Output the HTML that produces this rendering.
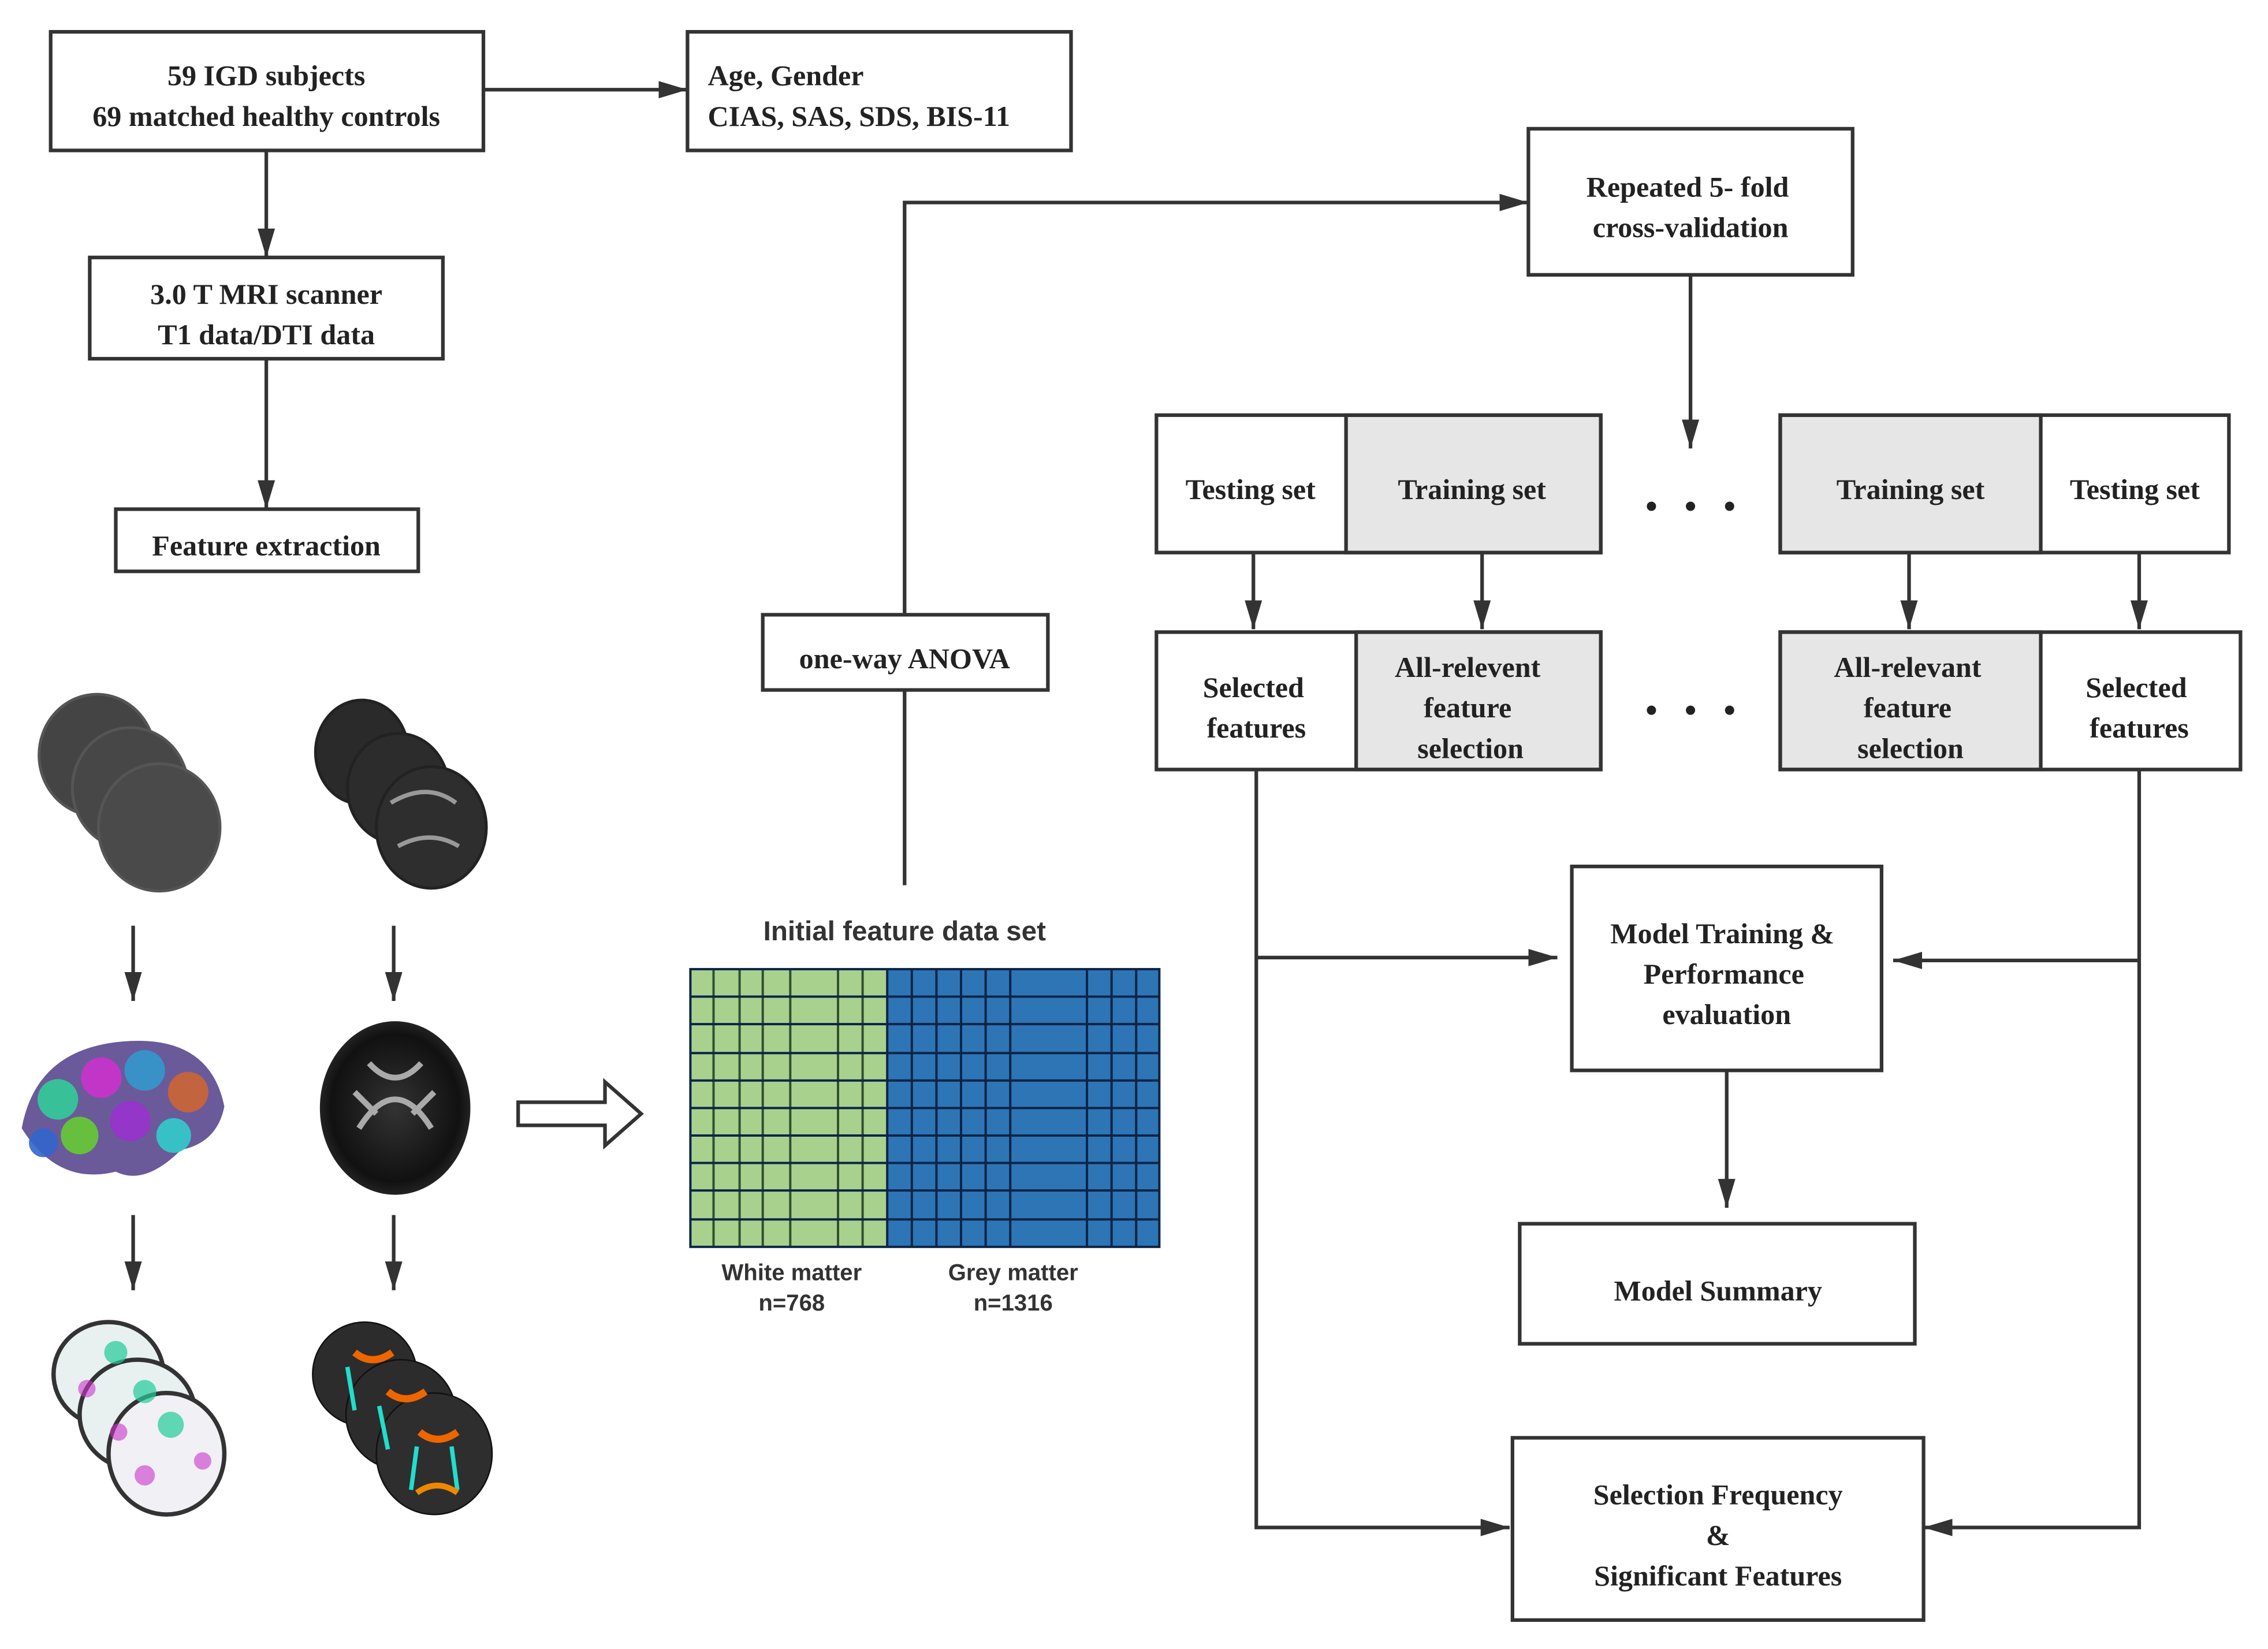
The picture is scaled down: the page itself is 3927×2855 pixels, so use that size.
<!DOCTYPE html>
<html><head><meta charset="utf-8"><style>html,body{margin:0;padding:0;background:#fff}svg{display:block}</style></head>
<body>
<svg width="3927" height="2855" viewBox="0 0 1567 1140" preserveAspectRatio="none" xmlns="http://www.w3.org/2000/svg">
<defs>
<marker id="a" viewBox="0 0 20 12" markerWidth="20" markerHeight="12" refX="20" refY="6" orient="auto" markerUnits="userSpaceOnUse"><path d="M0,0 L20,6 L0,12 z" fill="#333"/></marker>
<radialGradient id="dti" cx="50%" cy="50%" r="50%"><stop offset="0" stop-color="#333"/><stop offset="0.85" stop-color="#111"/><stop offset="1" stop-color="#222"/></radialGradient>
</defs>
<g fill="none" stroke="#333" stroke-width="2.5">
<rect x="35" y="22" width="299" height="82"/>
<rect x="475" y="22" width="265" height="82"/>
<rect x="62" y="178" width="244" height="70"/>
<rect x="80" y="352" width="209" height="43"/>
<rect x="1056" y="89" width="224" height="101"/>
<rect x="527" y="425" width="197" height="52"/>
<rect x="930" y="287" width="176" height="95" fill="#e6e6e6"/>
<rect x="799" y="287" width="307" height="95"/>
<rect x="1230" y="287" width="180" height="95" fill="#e6e6e6"/>
<rect x="1230" y="287" width="310" height="95"/>
<rect x="937" y="437" width="169" height="95" fill="#e6e6e6"/>
<rect x="799" y="437" width="307" height="95"/>
<rect x="1230" y="437" width="180" height="95" fill="#e6e6e6"/>
<rect x="1230" y="437" width="318" height="95"/>
<rect x="1086" y="599" width="214" height="141"/>
<rect x="1050" y="846" width="273" height="83"/>
<rect x="1045" y="994" width="284" height="126"/>
<path d="M334,62 H475" marker-end="url(#a)"/>
<path d="M184,104 V178" marker-end="url(#a)"/>
<path d="M184,248 V352" marker-end="url(#a)"/>
<path d="M625,612 V477 M625,425 V140 H1056" marker-end="url(#a)"/>
<path d="M1168,190 V310" marker-end="url(#a)"/>
<path d="M866,382 V435" marker-end="url(#a)"/>
<path d="M1024,382 V435" marker-end="url(#a)"/>
<path d="M1319,382 V435" marker-end="url(#a)"/>
<path d="M1478,382 V435" marker-end="url(#a)"/>
<path d="M868,532 V1056 H1043" marker-end="url(#a)"/>
<path d="M868,662 H1076" marker-end="url(#a)"/>
<path d="M1478,532 V1056 H1329" marker-end="url(#a)"/>
<path d="M1478,664 H1308" marker-end="url(#a)"/>
<path d="M1193,740 V835" marker-end="url(#a)"/>
<path d="M92,640 V692" marker-end="url(#a)"/>
<path d="M272,640 V692" marker-end="url(#a)"/>
<path d="M92,840 V892" marker-end="url(#a)"/>
<path d="M272,840 V892" marker-end="url(#a)"/>
<path d="M358,762 H418 V748 L443,770 L418,792 V778 H358 Z" stroke-width="2.5"/>
</g>
<g fill="#222">
<circle cx="1141" cy="350" r="3.2"/><circle cx="1168" cy="350" r="3.2"/><circle cx="1195" cy="350" r="3.2"/>
<circle cx="1141" cy="491" r="3.2"/><circle cx="1168" cy="491" r="3.2"/><circle cx="1195" cy="491" r="3.2"/>
</g>
<g font-family="Liberation Serif, serif" font-weight="bold" font-size="20" fill="#222" text-anchor="middle">
<text x="184" y="59">59 IGD subjects</text>
<text x="184" y="87">69 matched healthy controls</text>
<text x="489" y="59" text-anchor="start">Age, Gender</text>
<text x="489" y="87" text-anchor="start">CIAS, SAS, SDS, BIS-11</text>
<text x="184" y="210">3.0 T MRI scanner</text>
<text x="184" y="238">T1 data/DTI data</text>
<text x="184" y="384">Feature extraction</text>
<text x="1166" y="136">Repeated 5- fold</text>
<text x="1168" y="164">cross-validation</text>
<text x="625" y="462">one-way ANOVA</text>
<text x="864" y="345">Testing set</text>
<text x="1017" y="345">Training set</text>
<text x="1320" y="345">Training set</text>
<text x="1475" y="345">Testing set</text>
<text x="866" y="482">Selected</text>
<text x="868" y="510">features</text>
<text x="1014" y="468">All-relevent</text>
<text x="1014" y="496">feature</text>
<text x="1016" y="524">selection</text>
<text x="1318" y="468">All-relevant</text>
<text x="1318" y="496">feature</text>
<text x="1320" y="524">selection</text>
<text x="1476" y="482">Selected</text>
<text x="1478" y="510">features</text>
<text x="1190" y="652">Model Training &amp;</text>
<text x="1191" y="680">Performance</text>
<text x="1193" y="708">evaluation</text>
<text x="1187" y="899">Model Summary</text>
<text x="1187" y="1040">Selection Frequency</text>
<text x="1187" y="1068">&amp;</text>
<text x="1187" y="1096">Significant Features</text>
</g>
<g font-family="Liberation Sans, sans-serif" font-weight="bold" fill="#333" text-anchor="middle">
<text x="625" y="650" font-size="19">Initial feature data set</text>
<text x="547" y="885" font-size="16">White matter</text>
<text x="547" y="906" font-size="16">n=768</text>
<text x="700" y="885" font-size="16">Grey matter</text>
<text x="700" y="906" font-size="16">n=1316</text>
</g>
<rect x="477" y="670" width="136" height="192" fill="#a9d18e"/>
<rect x="613" y="670" width="188" height="192" fill="#2e75b6"/>
<g stroke="#1d3a20" stroke-width="1.6" opacity="0.85">
<path d="M493,670V862M511,670V862M527,670V862M546,670V862M579,670V862M596,670V862"/>
</g>
<g stroke="#0b2547" stroke-width="1.6">
<path d="M613,670V862M630,670V862M647,670V862M664,670V862M681,670V862M698,670V862M751,670V862M768,670V862M785,670V862"/>
<path d="M477,689H801M477,708H801M477,728H801M477,747H801M477,766H801M477,785H801M477,804H801M477,823H801M477,843H801"/>
<rect x="477" y="670" width="324" height="192" fill="none"/>
</g>
<g stroke="#555" stroke-width="2">
<ellipse cx="67" cy="522" rx="40" ry="42" fill="#444"/>
<ellipse cx="90" cy="545" rx="40" ry="42" fill="#474747"/>
<ellipse cx="110" cy="572" rx="42" ry="44" fill="#4a4a4a"/>
</g>
<g stroke="#222" stroke-width="2">
<ellipse cx="250" cy="520" rx="32" ry="36" fill="#2a2a2a"/>
<ellipse cx="275" cy="545" rx="35" ry="38" fill="#2c2c2c"/>
<ellipse cx="298" cy="572" rx="38" ry="42" fill="#2e2e2e"/>
</g>
<path d="M270,555 q25,-15 45,0 M275,585 q22,-12 42,0" stroke="#999" stroke-width="3" fill="none"/>
<path d="M15,780 q10,-55 70,-60 q60,-5 70,45 q-5,25 -30,30 q-25,25 -45,15 q-40,10 -65,-30z" fill="#6a5a9a"/>
<g opacity="0.9">
<circle cx="40" cy="760" r="14" fill="#3c9"/><circle cx="70" cy="745" r="14" fill="#c3c"/><circle cx="100" cy="740" r="14" fill="#39c"/><circle cx="130" cy="755" r="14" fill="#c63"/><circle cx="55" cy="785" r="13" fill="#6c3"/><circle cx="90" cy="775" r="14" fill="#93c"/><circle cx="120" cy="785" r="12" fill="#3cc"/><circle cx="30" cy="790" r="10" fill="#36c"/>
</g>
<ellipse cx="273" cy="766" rx="52" ry="60" fill="url(#dti)"/>
<path d="M255,735 q18,20 36,0 M248,780 q25,-40 50,0 M245,755 l15,15 M300,755 l-15,15" stroke="#aaa" stroke-width="4" fill="none"/>
<g stroke="#333" stroke-width="3">
<ellipse cx="75" cy="950" rx="38" ry="36" fill="#e8f0f0"/>
<ellipse cx="95" cy="978" rx="40" ry="38" fill="#e8f0f0"/>
<ellipse cx="115" cy="1005" rx="40" ry="42" fill="#f0f0f5"/>
</g>
<g fill="#2c9" opacity="0.7"><circle cx="80" cy="935" r="8"/><circle cx="100" cy="962" r="8"/><circle cx="118" cy="985" r="9"/></g>
<g fill="#c3c" opacity="0.6"><circle cx="60" cy="960" r="6"/><circle cx="82" cy="990" r="6"/><circle cx="100" cy="1020" r="7"/><circle cx="140" cy="1010" r="6"/></g>
<g stroke="#111" stroke-width="1">
<ellipse cx="252" cy="950" rx="36" ry="36" fill="#2c2c2c"/>
<ellipse cx="277" cy="978" rx="38" ry="38" fill="#2c2c2c"/>
<ellipse cx="300" cy="1005" rx="40" ry="42" fill="#2e2e2e"/>
</g>
<path d="M245,935 q12,10 26,0 M268,962 q12,10 26,0 M290,990 q12,10 26,0" stroke="#e60" stroke-width="5" fill="none"/>
<path d="M240,945 l5,30 M262,972 l6,30 M288,1000 l-4,30 M312,1000 l4,30" stroke="#2dc" stroke-width="3" fill="none"/>
<path d="M288,1032 q14,-10 28,0" stroke="#e80" stroke-width="4" fill="none"/>
</svg>
</body></html>
